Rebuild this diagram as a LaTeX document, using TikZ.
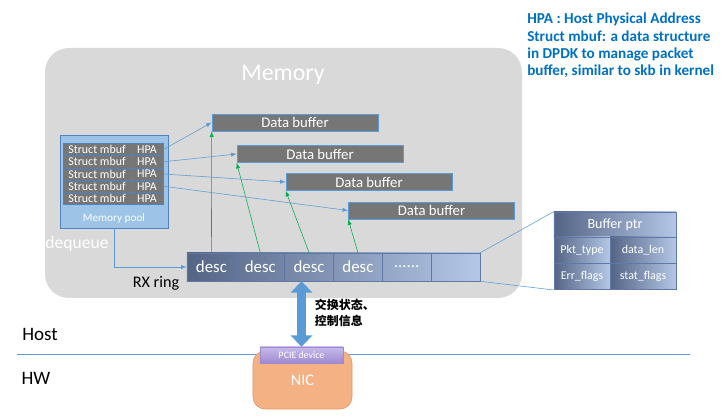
\documentclass[tikz,border=0pt]{standalone}
\usepackage{fontspec}
\setmainfont{Carlito}
\newfontfamily\cjkfont{Noto Sans CJK SC}
\usetikzlibrary{arrows.meta}

\definecolor{memgray}{RGB}{217,217,217}
\definecolor{cellgray}{RGB}{118,118,118}
\definecolor{lineblue}{RGB}{91,155,213}
\definecolor{cellborder}{RGB}{79,129,189}
\definecolor{poolblue}{RGB}{157,195,230}
\definecolor{poolborder}{RGB}{80,130,190}
\definecolor{ringdark}{RGB}{84,100,132}
\definecolor{ringlight}{RGB}{180,199,231}
\definecolor{ringborder}{RGB}{95,120,165}
\definecolor{linkgreen}{RGB}{0,176,80}
\definecolor{nicorange}{RGB}{244,177,131}
\definecolor{nicborder}{RGB}{225,150,105}
\definecolor{pcietop}{RGB}{200,186,236}
\definecolor{pciebottom}{RGB}{158,138,208}
\definecolor{noteblue}{RGB}{0,112,192}

\begin{document}
\begin{tikzpicture}[>=latex, x=0.025cm, y=-0.025cm,
  cell/.style={draw=cellborder, fill=cellgray, text=white, inner sep=0pt,
    minimum height=0.305cm, font=\fontsize{8.5}{9}\selectfont},
  buf/.style={draw=lineblue, fill=cellgray, text=white, inner sep=0pt,
    minimum width=4.15cm, minimum height=0.425cm, font=\fontsize{10.5}{12}\selectfont},
  desc/.style={draw=ringborder, inner sep=0pt, text=white,
    minimum width=1.221cm, minimum height=0.7cm, font=\fontsize{12}{14}\selectfont},
  ptrcell/.style={draw=ringborder, left color=ringdark, right color=ringlight,
    text=white, inner sep=0pt, font=\fontsize{8.5}{10}\selectfont},
  link/.style={lineblue, ->},
  green link/.style={linkgreen, ->},
  bigarrow/.style={lineblue, line width=7pt,
    {Triangle[width=15pt,length=8pt]}-{Triangle[width=15pt,length=8pt]}}
]
  \useasboundingbox (0,0) rectangle (728,418);

  % Host memory.
  \fill[memgray, rounded corners=0.6cm] (45,48) rectangle (522,298);
  \node[text=white, font=\fontsize{17}{20}\selectfont] (memtitle) at (283,75) {Memory};

  % Memory pool with its mbufs.
  \node[draw=poolborder, fill=poolblue, minimum width=2.7cm, minimum height=2.325cm] (pool) at (114,181.5) {};
  \node[text=white, font=\fontsize{8}{9}\selectfont] (poollabel) at (114,219) {Memory pool};
  \foreach \i in {1,...,5} {
    \node[cell, minimum width=1.7cm] (mb\i) at (97,{137.4+\i*12.2}) {Struct mbuf};
    \node[cell, minimum width=0.8cm] (hpa\i) at (147,{137.4+\i*12.2}) {HPA};
  }
  \node[text=white, font=\fontsize{12.5}{14}\selectfont] (dequeue) at (77,244) {dequeue};

  % Data buffers.
  \foreach \i/\x/\y in {1/295/122.5, 2/320/154, 3/369/182, 4/431.5/210.5}
    \node[buf] (db\i) at (\x,\y) {Data buffer};

  % RX ring.
  \node[left color=ringdark, right color=ringlight, minimum width=7.325cm, minimum height=0.7cm] (ring) at (333.5,267) {};
  \foreach \i/\t in {1/desc, 2/desc, 3/desc, 4/desc, 5/{......}, 6/{}}
    \node[desc] (c\i) at ({162.6+\i*48.83},267) {\t};
  \node[font=\fontsize{11.5}{13}\selectfont] (rxlabel) at (156,283) {RX ring};

  % Descriptor layout.
  \node[ptrcell, minimum width=3.05cm, minimum height=0.625cm, font=\fontsize{10}{12}\selectfont] (bphead) at (615,224.5) {Buffer ptr};
  \node[ptrcell, minimum width=1.4cm, minimum height=0.66cm] (pkt) at (582,250) {Pkt\_type};
  \node[ptrcell, minimum width=1.65cm, minimum height=0.66cm] (dlen) at (643,250) {data\_len};
  \node[ptrcell, minimum width=1.4cm, minimum height=0.66cm] (err) at (582,276.5) {Err\_flags};
  \node[ptrcell, minimum width=1.65cm, minimum height=0.66cm] (stat) at (643,276.5) {stat\_flags};
  \draw[lineblue] (c6.north east) -- (bphead.north west);
  \draw[lineblue] (c6.south east) -- (err.south west);

  % Pointers.
  \foreach \i in {1,...,4} {
    \draw[link] (hpa\i.east) -- (db\i.west);
    \draw[green link] (c\i.north) -- (db\i.south west);
  }
  \draw[link] (pool.south) |- (c1.west);

  % Host / HW boundary.
  \draw[lineblue] (17,354) coordinate (hl) -- (690,354) coordinate (hr);
  \node[font=\fontsize{13.5}{15}\selectfont] (host) at (40,334) {Host};
  \node[font=\fontsize{13.5}{15}\selectfont] (hw) at (36,378) {HW};

  % The NIC.
  \node[draw=nicborder, fill=nicorange, rounded corners=0.3cm, minimum width=2.475cm, minimum height=1.45cm,
    text=white, font=\fontsize{11.5}{13}\selectfont] (nic) at (302.5,380) {\raisebox{-2pt}{NIC}};
  \node[draw=pciebottom, top color=pcietop, bottom color=pciebottom, minimum width=2.075cm, minimum height=0.4cm,
    inner sep=0pt, text=white, font=\fontsize{7}{8}\selectfont] (pcie) at (301.5,355) {PCIE device};
  \draw[bigarrow] (pcie.north) -- (pcie.north |- c3.south);
  \node[anchor=west, align=left, font=\cjkfont\bfseries\fontsize{8.5}{11.5}\selectfont] (swap) at (310,313) {交换状态、\\控制信息};

  % Note.
  \node[anchor=north west, align=left, inner sep=0pt, text=noteblue, font=\bfseries\fontsize{10.8}{12.2}\selectfont] (note) at (527,13)
    {HPA : Host Physical Address\\Struct mbuf: a data structure\\in DPDK to manage packet\\buffer, similar to skb in kernel};
\end{tikzpicture}
\end{document}
